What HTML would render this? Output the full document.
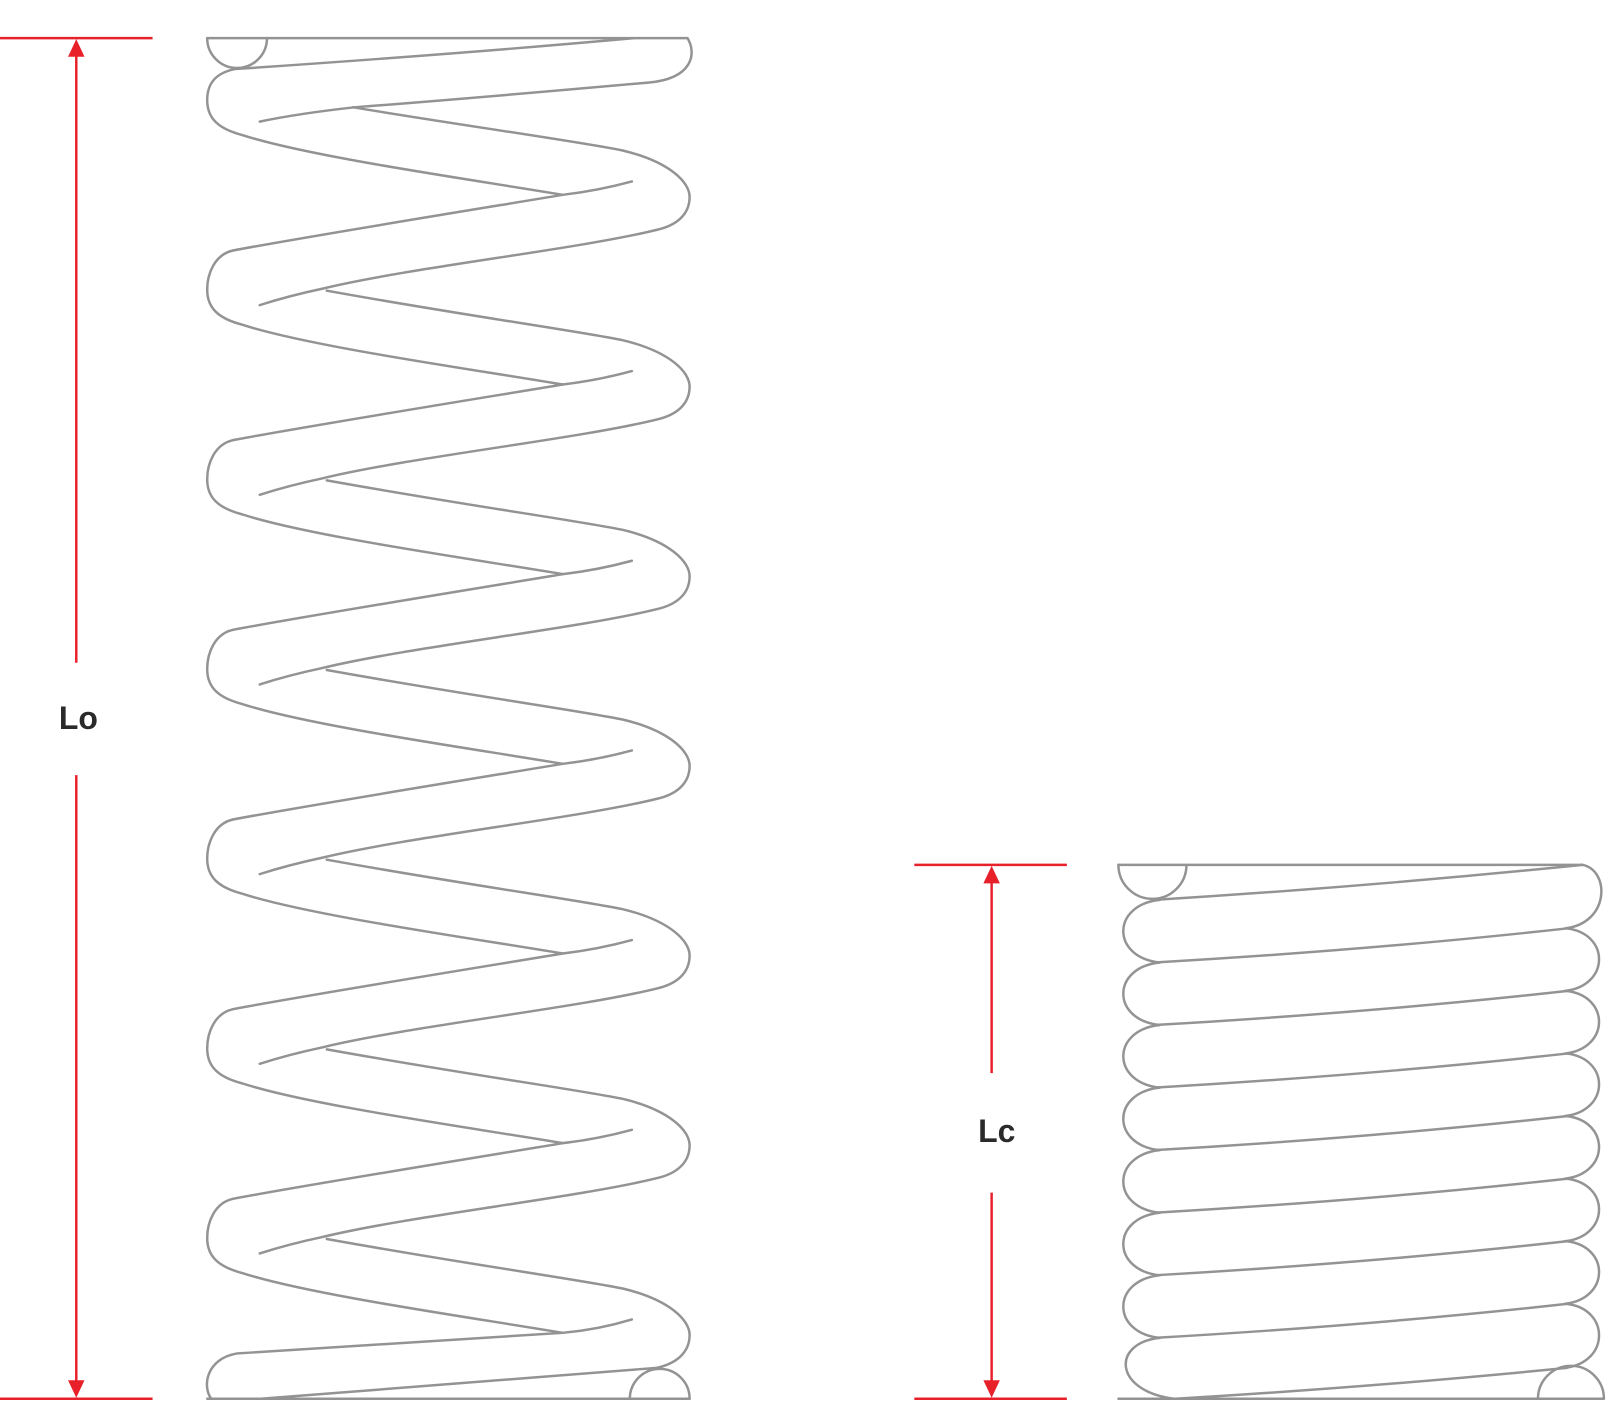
<!DOCTYPE html>
<html><head><meta charset="utf-8"><style>
html,body{margin:0;padding:0;background:#fff}
svg{display:block}
</style></head><body>
<svg id="s" width="1608" height="1407" viewBox="0 0 1608 1407" xmlns="http://www.w3.org/2000/svg">
<g transform="scale(1.0308)">
<g id="g" fill="none" stroke="#939393" stroke-width="2.4" stroke-linecap="round"></g>
<g stroke="#e8202a" stroke-width="2.4" fill="#e8202a">
<line x1="0" y1="37" x2="148" y2="37"/>
<line x1="0" y1="1357" x2="148" y2="1357"/>
<line x1="74" y1="52" x2="74" y2="643"/>
<line x1="74" y1="752" x2="74" y2="1342"/>
<polygon points="74,38 66,55 82,55" stroke="none"/>
<polygon points="74,1356 66,1339 82,1339" stroke="none"/>
<line x1="887" y1="839" x2="1035" y2="839"/>
<line x1="887" y1="1357" x2="1035" y2="1357"/>
<line x1="962" y1="854" x2="962" y2="1041"/>
<line x1="962" y1="1157" x2="962" y2="1342"/>
<polygon points="962,840 954,857 970,857" stroke="none"/>
<polygon points="962,1356 954,1339 970,1339" stroke="none"/>
</g>
<text x="76" y="707" font-family="Liberation Sans, sans-serif" font-weight="bold" font-size="31" fill="#2a2a2a" text-anchor="middle">Lo</text>
<text x="967" y="1108" font-family="Liberation Sans, sans-serif" font-weight="bold" font-size="31" fill="#2a2a2a" text-anchor="middle">Lc</text>
</g>
</svg>
<script>
(function(){
var g=document.getElementById('g'),p=[];
function P(d){p.push('<path d="'+d+'"/>');}
function f(v){return (+v).toFixed(1);}
P('M201,37 L667,37');
P('M201,37 A29,29 0 0 0 259,37');
var first='M615,37 Q450,52 228,'+f(97-30);
P('M667,37 C676,52 672,76 630,80 Q450,96 345,104 Q290,110 252,118');
for(var k=0;k<7;k++){
  var Y=97+184*k;
  var ty=(k==0?Y-30:Y-38);
  var st=(k==0?first:'M226,'+f(ty));
  P(st+' C208,'+f(ty+4)+' 201,'+f(Y-15)+' 201,'+f(Y)+' C201,'+f(Y+18)+' 212,'+f(Y+28)+' 235,'+f(Y+34)+' C300,'+f(Y+55)+' 450,'+f(Y+76)+' 546,'+f(Y+92));
  var x0=(k==0?342:317),y0=(k==0?Y+7:Y+1);
  var d='M'+x0+','+f(y0)+' C450,'+f(Y+25)+' 560,'+f(Y+40)+' 604,'+f(Y+49)+' C650,'+f(Y+60)+' 669,'+f(Y+80)+' 669,'+f(Y+94)+' C669,'+f(Y+112)+' 655,'+f(Y+122)+' 637,'+f(Y+126);
  if(k<6) d+=' C560,'+f(Y+145)+' 400,'+f(Y+162)+' 313,'+f(Y+183)+' Q280,'+f(Y+190)+' 252,'+f(Y+199);
  else d+=' Q450,1342 253,1357';
  P(d);
  if(k<6) P('M613,'+f(Y+79)+' Q580,'+f(Y+88)+' 546,'+f(Y+92)+' C480,'+f(Y+103)+' 300,'+f(Y+132)+' 226,'+f(Y+146));
  else P('M613,'+f(Y+79)+' Q580,'+f(Y+89)+' 546,'+f(Y+92)+' L230,1313 C200,1318 196,1345 205,1357');
}
P('M201,1357 L669,1357');
P('M611,1357 A29,29 0 0 1 669,1357');
P('M1085,839 L1535,839');
P('M1085,839 A33,33 0 0 0 1151,839');
var a=[];
for(var i=0;i<8;i++)a.push(873+60.7*i);
P('M1120,873 Q1330,860 1535,839');
for(var i=0;i<7;i++){
  var y0=a[i],y1=a[i+1];
  P('M1125,'+f(y0)+' C1078,'+f(y0+5)+' 1078,'+f(y1-5)+' 1125,'+f(y1));
}
for(var i=1;i<8;i++){
  var y=a[i];
  P('M1120,'+f(y)+' Q1330,'+f(y-12)+' 1520,'+f(y-33));
}
P('M1125,'+f(a[7])+' C1078,'+f(a[7]+5)+' 1080,1350 1140,1357');
P('M1140,1357 Q1340,1345 1520,1327');
var rb=[839].concat(a.slice(1).map(function(v){return v-33;})).concat([1327]);
for(var i=0;i<rb.length-1;i++){
  var u=rb[i],v=rb[i+1],xs=(i==0?1535:1520);
  P('M'+xs+','+f(u)+' C1562,'+f(u+5)+' 1562,'+f(v-5)+' 1518,'+f(v));
}
P('M1085,1357 L1556,1357');
P('M1492,1357 A32,32 0 0 1 1556,1357');
g.innerHTML=p.join('');
})();
</script>
</body></html>
